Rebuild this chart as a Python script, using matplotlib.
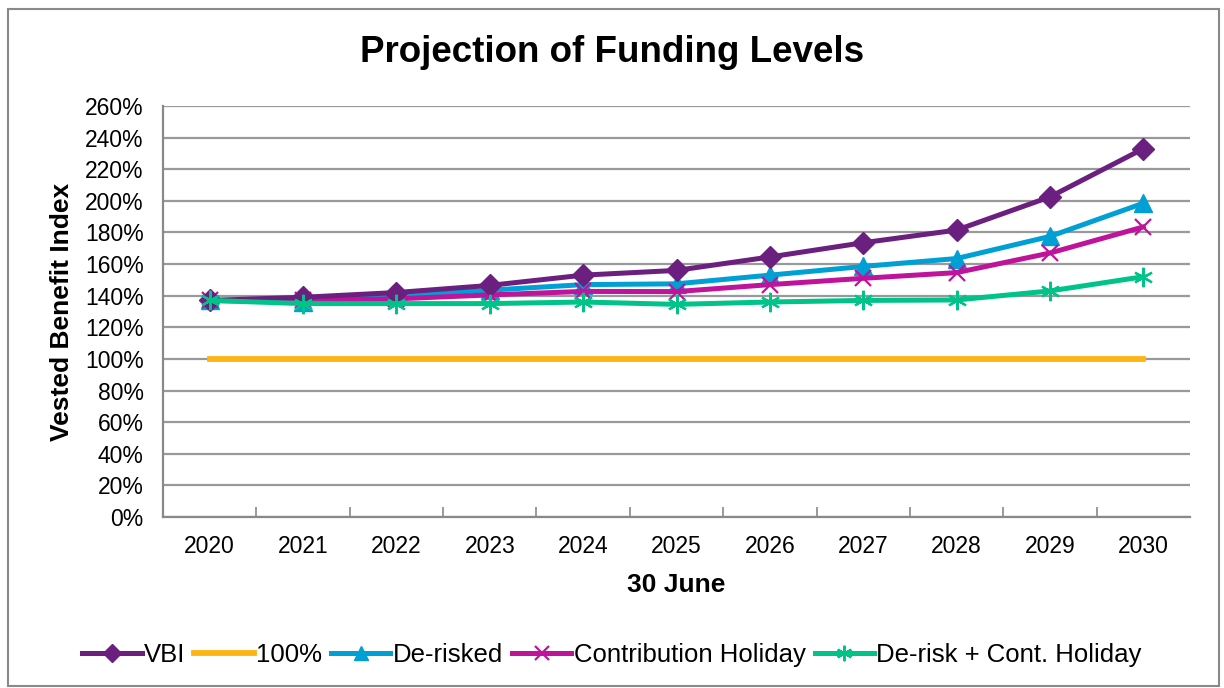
import matplotlib
matplotlib.use("Agg")
import matplotlib.pyplot as plt
from matplotlib.ticker import FuncFormatter, MultipleLocator
from matplotlib.patches import Rectangle

plt.rcParams['font.family'] = ['Liberation Sans', 'DejaVu Sans']

years = ['2020', '2021', '2022', '2023', '2024', '2025', '2026', '2027', '2028', '2029', '2030']
vbi = [137, 139, 142, 146.5, 153, 156, 164.5, 173.5, 181.5, 202.5, 233]
hundred = [100, 100, 100, 100, 100, 100, 100, 100, 100, 100, 100]
de_risked = [137, 136, 140, 143.5, 147, 147.5, 153, 158.5, 163.5, 177.5, 198.5]
cont_holiday = [137, 137, 138, 140.5, 142.7, 142.6, 147, 151, 154.6, 167, 183.5]
derisk_cont = [137, 135, 135, 135, 136, 134.5, 136, 137, 137.3, 143, 152]

fig = plt.figure(figsize=(12.24, 6.88), dpi=100)
ax = fig.add_axes([163 / 1224, 1 - 517 / 688, (1190 - 163) / 1224, (517 - 106) / 688])

x = range(len(years))
lw = 3.6
ax.plot(x, vbi, color='#6B1F7F', lw=lw, marker='D', ms=11, label='VBI', zorder=5)
ax.plot(x, hundred, color='#FDB515', lw=lw + 0.6, label='100%', zorder=3)
ax.plot(x, de_risked, color='#009FD4', lw=lw, marker='^', ms=13, label='De-risked', zorder=4)
ax.plot(x, cont_holiday, color='#C0139B', lw=lw, marker='x', ms=12, mew=1.6,
        label='Contribution Holiday', zorder=4)
ax.plot(x, derisk_cont, color='#00C389', lw=lw, marker=(6, 2, 0), ms=14, mew=1.6,
        label='De-risk + Cont. Holiday', zorder=6)

ax.set_xlim(-0.5, len(years) - 0.5)
ax.set_ylim(0, 260)
ax.yaxis.set_major_locator(MultipleLocator(20))
ax.yaxis.set_major_formatter(FuncFormatter(lambda v, p: f'{v:.0f}%'))
ax.set_xticks(list(x))
ax.set_xticklabels(years)
ax.set_xticks([i + 0.5 for i in range(len(years) - 1)], minor=True)
ax.tick_params(axis='x', which='major', length=0, labelsize=16.5, pad=13)
ax.tick_params(axis='x', which='minor', direction='in', length=7, color='#898989', width=1.2)
ax.tick_params(axis='y', length=0, labelsize=16.5, pad=14)
ax.grid(axis='y', color='#999999', lw=1.6)
ax.set_axisbelow(True)
for s in ['top', 'right']:
    ax.spines[s].set_visible(False)
for s in ['left', 'bottom']:
    ax.spines[s].set_color('#898989')
    ax.spines[s].set_linewidth(1.6)

fig.suptitle('Projection of Funding Levels', x=0.5, y=1 - 52 / 688, va='center',
             fontsize=26.5, fontweight='bold')
ax.set_xlabel('30 June', fontsize=19, fontweight='bold', labelpad=11)
ax.set_ylabel('Vested Benefit Index', fontsize=19, fontweight='bold', labelpad=8)

fig.legend(loc='center', bbox_to_anchor=(0.5, 1 - 655 / 688), ncol=5, frameon=False,
           fontsize=18.5, handlelength=2.3, handletextpad=0.1, columnspacing=0.35,
           markerscale=0.8)

fig.patches.append(Rectangle((8 / 1224, 1 - 686 / 688), (1219 - 8) / 1224, (686 - 9) / 688,
                             transform=fig.transFigure, fill=False, edgecolor='#898989', lw=1.5))

fig.savefig('out.png', dpi=100)
